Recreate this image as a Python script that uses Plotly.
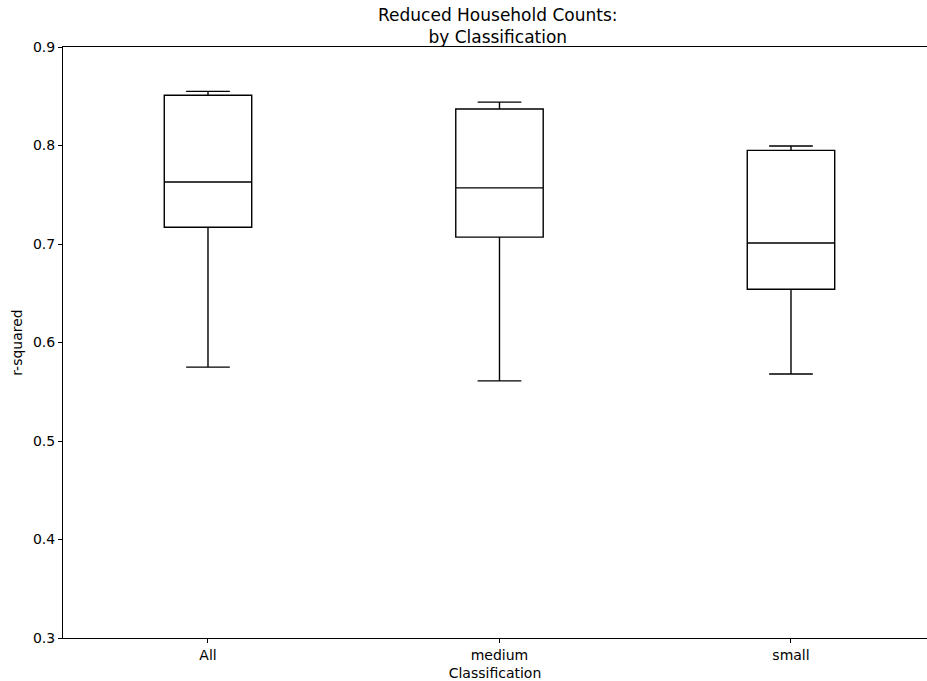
import plotly.graph_objects as go

categories = ["All", "medium", "small"]
lower_whisker = [0.575, 0.561, 0.568]
q1_vals = [0.717, 0.707, 0.654]
median_vals = [0.763, 0.757, 0.701]
q3_vals = [0.851, 0.837, 0.795]
upper_whisker = [0.855, 0.844, 0.7995]
y_ticks = [0.3, 0.4, 0.5, 0.6, 0.7, 0.8, 0.9]

positions = list(range(len(categories)))

fig = go.Figure()
fig.add_trace(go.Box(
    x=positions,
    q1=q1_vals, median=median_vals, q3=q3_vals,
    lowerfence=lower_whisker, upperfence=upper_whisker,
    width=0.3, whiskerwidth=0.5,
    line=dict(color="black", width=1.4),
    fillcolor="rgba(255,255,255,0)",
    boxpoints=False, hoverinfo="skip", showlegend=False,
))

font = "DejaVu Sans, sans-serif"
fig.update_layout(
    width=927, height=681,
    margin=dict(l=63, r=0, t=47, b=43),
    plot_bgcolor="white", paper_bgcolor="white",
    font=dict(family=font, size=14, color="black"),
    xaxis=dict(
        range=[-0.4974, 2.4666], tickmode="array", tickvals=positions,
        ticktext=categories, showline=True, linecolor="black", linewidth=1,
        mirror=True, ticks="outside", ticklen=4, tickcolor="black",
        showgrid=False, zeroline=False, tickfont=dict(size=14),
        title=dict(text="Classification", standoff=8, font=dict(size=14)),
    ),
    yaxis=dict(
        range=[0.3, 0.9], tickmode="array", tickvals=y_ticks,
        ticktext=[f"{v:.1f}" for v in y_ticks],
        showline=True, linecolor="black", linewidth=1,
        ticks="outside", ticklen=4, tickcolor="black",
        showgrid=False, zeroline=False, tickfont=dict(size=14),
        title=dict(text="r-squared", standoff=7, font=dict(size=14)),
    ),
)
fig.add_annotation(
    text="Reduced Household Counts:<br>by Classification",
    xref="paper", yref="paper", x=0.503, y=1, xanchor="center", yanchor="bottom",
    yshift=-2, showarrow=False, font=dict(size=17, family=font, color="black"),
)

fig.write_html("out.html")
